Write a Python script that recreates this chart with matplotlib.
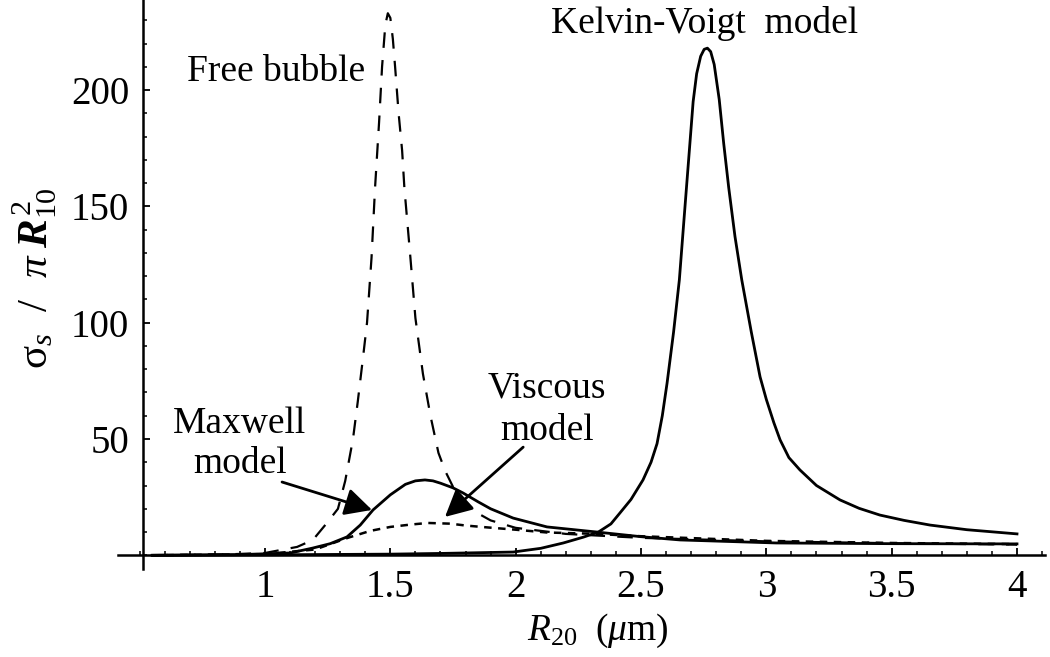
import matplotlib
matplotlib.use("Agg")
import matplotlib.pyplot as plt
from matplotlib.ticker import MultipleLocator

plt.rcParams['font.family'] = 'Liberation Serif'
plt.rcParams['mathtext.fontset'] = 'custom'
plt.rcParams['mathtext.rm'] = 'Liberation Serif'
plt.rcParams['mathtext.it'] = 'Liberation Serif:italic'
plt.rcParams['mathtext.bf'] = 'Liberation Serif:bold'
plt.rcParams['mathtext.bfit'] = 'Liberation Serif:italic:bold'

# ---- data: R20 (um) vs sigma_s / (pi R10^2) ----
free_x = [0.55, 0.70, 0.85, 1.00, 1.128, 1.191, 1.247, 1.291, 1.32, 1.351, 1.37,
          1.391, 1.407, 1.425, 1.439, 1.455, 1.467, 1.48, 1.49, 1.50, 1.51, 1.519,
          1.533, 1.547, 1.556, 1.58, 1.60, 1.63, 1.66, 1.692, 1.72, 1.752, 1.79,
          1.85, 1.90, 2.00, 2.20, 2.50, 3.00, 3.50, 4.00]
free_y = [0.1, 0.2, 0.4, 1.0, 3.6, 6.6, 13.9, 20, 32, 50, 66,
          85, 100, 128, 158, 186, 210, 228, 233, 231, 222, 210,
          190, 174, 158, 128, 102, 78, 60, 44, 36, 29, 24,
          18, 15, 11.8, 9.2, 7.5, 6.0, 5.2, 4.6]

kv_x = [0.55, 1.00, 1.50, 1.70, 1.99, 2.10, 2.19, 2.27, 2.33, 2.38, 2.416, 2.46,
        2.508, 2.54, 2.564, 2.585, 2.604, 2.63, 2.653, 2.672, 2.690, 2.708, 2.722,
        2.738, 2.752, 2.765, 2.778, 2.792, 2.812, 2.83, 2.85, 2.875, 2.902, 2.94,
        2.975, 3.00, 3.03, 3.055, 3.09, 3.134, 3.20, 3.294, 3.37, 3.453, 3.55,
        3.653, 3.80, 4.00]
kv_y = [0.0, 0.2, 0.5, 0.8, 1.4, 3.0, 5.3, 7.8, 10, 13.5, 18.2, 24,
        32.4, 40, 48, 60, 74, 96, 118.4, 145, 170, 195, 207,
        214.5, 217.5, 218, 216.5, 211, 196, 177, 158, 137, 118.4, 96,
        76.7, 67, 57, 49.6, 42, 36.7, 30, 23.8, 20.2, 17.3, 15.0,
        13.0, 11.0, 9.2]

max_x = [0.55, 0.90, 1.10, 1.19, 1.26, 1.327, 1.38, 1.431, 1.50, 1.56, 1.60,
         1.638, 1.67, 1.70, 1.75, 1.79, 1.85, 1.90, 1.99, 2.125, 2.324, 2.50,
         2.656, 3.04, 3.50, 4.00]
max_y = [0.0, 0.3, 1.0, 3.1, 5.0, 7.9, 13, 19.5, 26, 30.5, 32.0,
         32.4, 32.0, 31.0, 29.0, 26.8, 23.0, 20.0, 16.0, 12.2, 10.0, 8.0,
         6.6, 5.3, 5.0, 4.9]

visc_x = [0.55, 1.00, 1.20, 1.33, 1.42, 1.50, 1.58, 1.65, 1.74, 1.80, 1.886,
          2.00, 2.125, 2.30, 2.50, 3.00, 3.50, 4.00]
visc_y = [0.0, 0.5, 2.5, 7.5, 10.5, 12.2, 13.2, 13.9, 13.6, 12.8, 12.0,
          11.0, 9.8, 9.3, 8.2, 6.2, 5.3, 4.8]

x_ticks = [1, 1.5, 2, 2.5, 3, 3.5, 4]
x_ticklabels = ["1", "1.5", "2", "2.5", "3", "3.5", "4"]
y_ticks = [50, 100, 150, 200]

fig = plt.figure(figsize=(10.5, 6.57), dpi=100)
ax = fig.add_axes([0.1124, 0.1339, 0.8829, 0.8661])

ax.plot(free_x, free_y, color="black", lw=1.6, dashes=(7, 5.5))
ax.plot(kv_x, kv_y, color="black", lw=2.0)
ax.plot(max_x, max_y, color="black", lw=2.0)
ax.plot(visc_x, visc_y, color="black", lw=1.8, dashes=(3.0, 2.6))

ax.set_xlim(0.4136, 4.112)
ax.set_ylim(-5.9, 238.7)

# mathematica-like axes crossing
ax.spines['left'].set_position(('data', 0.513))
ax.spines['bottom'].set_position(('data', 0))
ax.spines['top'].set_visible(False)
ax.spines['right'].set_visible(False)
for s in ('left', 'bottom'):
    ax.spines[s].set_linewidth(1.8)

ax.set_xticks(x_ticks)
ax.set_xticklabels(x_ticklabels)
ax.set_yticks(y_ticks)
ax.xaxis.set_minor_locator(MultipleLocator(0.1))
ax.yaxis.set_minor_locator(MultipleLocator(10))
ax.tick_params(which='major', direction='in', length=5, width=1.3, labelsize=28)
ax.tick_params(which='minor', direction='in', length=3, width=1.1)
ax.tick_params(axis='x', which='major', pad=10)
ax.tick_params(axis='y', which='major', pad=10)

ax.set_xlabel(r'$R_{20}\ \ (\mu\mathrm{m})$', fontsize=27)
ax.xaxis.set_label_coords(0.518, -0.075)
ax.set_ylabel(r'σ$_s$  /  $\pi\;\boldsymbol{R}_{10}^{\,2}$', fontsize=31)
ax.yaxis.set_label_coords(-0.064, 0.51)

txt = 27
ax.text(1.399, 204, "Free bubble", ha="right", va="baseline", fontsize=txt)
ax.text(2.755, 224.6, "Kelvin-Voigt  model", ha="center", va="baseline", fontsize=txt)
ax.text(0.90, 52.6, "Maxwell", ha="center", va="baseline", fontsize=txt)
ax.text(0.90, 35.4, "model", ha="center", va="baseline", fontsize=txt)
ax.text(2.125, 68, "Viscous", ha="center", va="baseline", fontsize=txt)
ax.text(2.125, 49.6, "model", ha="center", va="baseline", fontsize=txt)

arrow = dict(arrowstyle="-|>,head_length=0.55,head_width=0.28", color="black",
             lw=2.0, mutation_scale=30, shrinkA=0, shrinkB=0)
ax.annotate("", xy=(1.427, 19.5), xytext=(1.068, 31.5), arrowprops=arrow)
ax.annotate("", xy=(1.718, 16.5), xytext=(2.03, 46.5), arrowprops=arrow)

fig.savefig("out.png", dpi=100)
